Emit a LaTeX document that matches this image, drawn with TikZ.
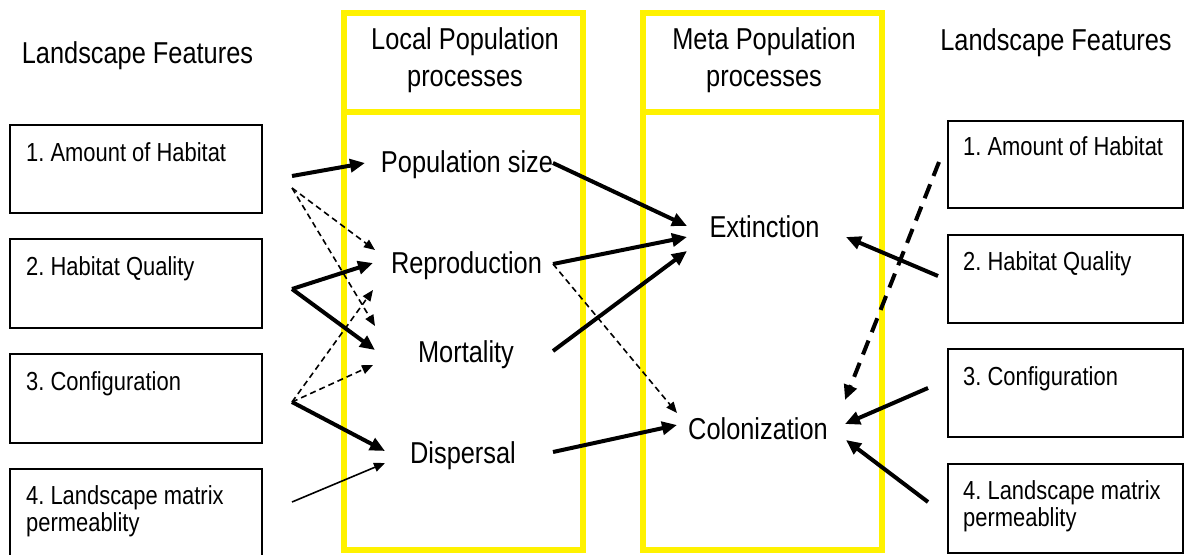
\documentclass[tikz,border=0pt]{standalone}
\usepackage{fontspec}
\setmainfont{Liberation Sans}[FakeStretch=0.84]
\usetikzlibrary{arrows.meta}
\newcommand\fbig{\fontsize{30.2}{31}\selectfont\frenchspacing}
\newcommand\fhead{\fontsize{30.2}{37}\selectfont\frenchspacing}
\newcommand\fsmall{\fontsize{26.1}{27.5}\selectfont\frenchspacing}
\begin{document}
\begin{tikzpicture}[x=1pt,y=-1pt,
  ycol/.style={draw=yellow, line width=6pt, inner sep=0pt},
  featbox/.style={draw=black, line width=2.6pt, inner sep=0pt},
  feattxt/.style={font=\fsmall, inner sep=0pt, anchor=base west},
  proctxt/.style={font=\fbig, inner sep=0pt, anchor=base},
  headtxt/.style={font=\fhead, inner sep=0pt, align=center},
  thick arrow/.style={line width=4pt, -{Triangle[length=15pt,width=13pt]}},
  thin arrow/.style={line width=1.6pt, -{Triangle[length=11pt,width=9pt]}},
  thin dash/.style={thin arrow, dash pattern=on 6pt off 4pt},
  thick dash/.style={thick arrow, dash pattern=on 15pt off 9pt}]
\useasboundingbox (0,0) rectangle (1188,554);

% yellow columns
\node[ycol, minimum width=239pt, minimum height=99pt] (LPh) at (463.5,62.5) {};
\node[ycol, minimum width=239pt, minimum height=438pt] (LPb) at (463.5,331) {};
\node[ycol, minimum width=239pt, minimum height=99pt] (MPh) at (762.5,62.5) {};
\node[ycol, minimum width=239pt, minimum height=438pt] (MPb) at (762.5,331) {};
\node[headtxt] (LPt) at (465,60) {Local Population\\processes};
\node[headtxt] (MPt) at (764,60) {Meta Population\\processes};

% landscape features titles
\node[proctxt] (LFl) at (137.5,63) {Landscape Features};
\node[proctxt] (LFr) at (1056,50) {Landscape Features};

% left boxes
\node[featbox, minimum width=252pt, minimum height=88pt] (L1) at (136,169) {};
\node[featbox, minimum width=252pt, minimum height=89pt] (L2) at (136,283.5) {};
\node[featbox, minimum width=252pt, minimum height=89pt] (L3) at (136,398.5) {};
\node[featbox, minimum width=252pt, minimum height=92pt] (L4) at (136,515) {};
\node[feattxt] (L1t) at (26,161) {1. Amount of Habitat};
\node[feattxt] (L2t) at (26,275) {2. Habitat Quality};
\node[feattxt] (L3t) at (26,390) {3. Configuration};
\node[font=\fsmall, inner sep=0pt, anchor=west, align=left] (L4t) at (26,511) {4. Landscape matrix\\permeablity};

% right boxes
\node[featbox, minimum width=235pt, minimum height=87pt] (R1) at (1065.5,164.5) {};
\node[featbox, minimum width=235pt, minimum height=88pt] (R2) at (1065.5,279) {};
\node[featbox, minimum width=235pt, minimum height=88pt] (R3) at (1065.5,393) {};
\node[featbox, minimum width=235pt, minimum height=89pt] (R4) at (1065.5,508.5) {};
\node[feattxt] (R1t) at (963,155) {1. Amount of Habitat};
\node[feattxt] (R2t) at (963,270) {2. Habitat Quality};
\node[feattxt] (R3t) at (963,385) {3. Configuration};
\node[font=\fsmall, inner sep=0pt, anchor=west, align=left] (R4t) at (963,506) {4. Landscape matrix\\permeablity};

% process names
\node[proctxt] (pop) at (467,172) {Population size};
\node[proctxt] (rep) at (466.5,273) {Reproduction};
\node[proctxt] (mor) at (466,362) {Mortality};
\node[proctxt] (dis) at (463,463) {Dispersal};
\node[proctxt] (ext) at (764.5,237) {Extinction};
\node[proctxt] (col) at (758,439) {Colonization};

% connector end points
\coordinate (a1s) at (292,176);
\coordinate (a1e) at (365,163);
\coordinate (b1s) at (292,188);
\coordinate (b1r) at (375,250);
\coordinate (b1m) at (375,326);
\coordinate (b2s) at (292,289);
\coordinate (b2r) at (373,263);
\coordinate (b2m) at (375,350);
\coordinate (b3s) at (292,402);
\coordinate (b3r) at (373,290);
\coordinate (b3m) at (373,365);
\coordinate (b3d) at (385,451);
\coordinate (b4s) at (292,502);
\coordinate (b4d) at (385,463);
\coordinate (ps) at (553,163);
\coordinate (rs) at (553,264);
\coordinate (ms) at (553,351);
\coordinate (ds) at (553,452);
\coordinate (x1) at (687,226);
\coordinate (x2) at (687,237);
\coordinate (x3) at (687,251);
\coordinate (c1) at (677,413);
\coordinate (c2) at (677,425);
\coordinate (r1s) at (939,162);
\coordinate (r2s) at (938,276);
\coordinate (r3s) at (928,388);
\coordinate (r4s) at (928,502);
\coordinate (x4) at (846,237);
\coordinate (c3) at (845,400);
\coordinate (c4) at (845,424);
\coordinate (c5) at (846,440);

% left connectors
\draw[thick arrow] (a1s) -- (a1e);
\draw[thin dash] (b1s) -- (b1r);
\draw[thin dash] (b1s) -- (b1m);
\draw[thick arrow] (b2s) -- (b2r);
\draw[thick arrow] (b2s) -- (b2m);
\draw[thin dash] (b3s) -- (b3r);
\draw[thin dash] (b3s) -- (b3m);
\draw[thick arrow] (b3s) -- (b3d);
\draw[thin arrow] (b4s) -- (b4d);

% middle connectors
\draw[thick arrow] (ps) -- (x1);
\draw[thick arrow] (rs) -- (x2);
\draw[thick arrow] (ms) -- (x3);
\draw[thin dash] (rs) -- (c1);
\draw[thick arrow] (ds) -- (c2);

% right connectors
\draw[thick arrow] (r2s) -- (x4);
\draw[thick dash] (r1s) -- (c3);
\draw[thick arrow] (r3s) -- (c4);
\draw[thick arrow] (r4s) -- (c5);
\end{tikzpicture}
\end{document}
